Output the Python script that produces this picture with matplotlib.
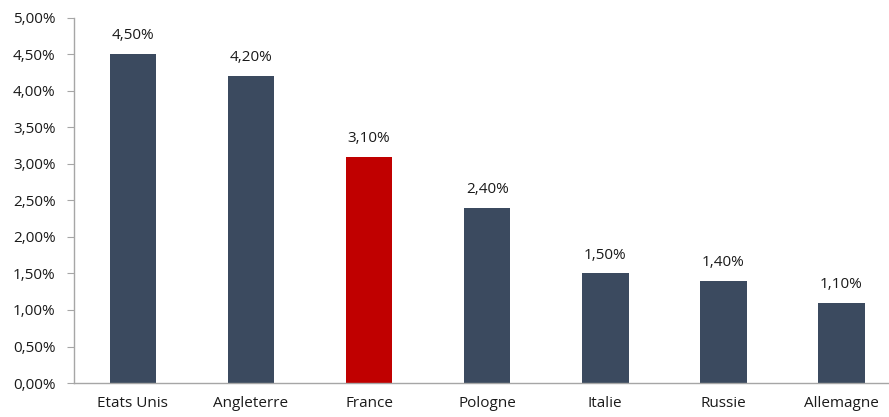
import matplotlib.pyplot as plt
from matplotlib.ticker import FuncFormatter

pays = ["Etats Unis", "Angleterre", "France", "Pologne", "Italie", "Russie", "Allemagne"]
taux = [4.50, 4.20, 3.10, 2.40, 1.50, 1.40, 1.10]
couleurs = ["#3B4A5F", "#3B4A5F", "#C00000", "#3B4A5F", "#3B4A5F", "#3B4A5F", "#3B4A5F"]

def pct(v):
  return "{:.2f}%".format(v).replace(".", ",")

plt.rcParams["font.family"] = ["Open Sans", "DejaVu Sans"]

fig = plt.figure(figsize=(8.89, 4.17), dpi=100)
# the plot area runs a bit past the right edge of the picture, as in the source
ax = fig.add_axes([0.083, 0.0815, 0.930, 0.8755])

x = range(len(pays))
ax.bar(x, taux, width=0.395, color=couleurs, zorder=2)
for xi, v in zip(x, taux):
  ax.text(xi, v + 0.15, pct(v), ha="center", va="bottom", fontsize=11, color="#1a1a1a")

ax.set_xlim(-0.5, len(pays) - 0.5)
ax.set_ylim(0, 5)
ax.set_yticks([i * 0.5 for i in range(11)])
ax.yaxis.set_major_formatter(FuncFormatter(lambda v, p: pct(v)))
ax.set_xticks(list(x))
ax.set_xticklabels(pays)
ax.tick_params(axis="x", length=0, pad=9, labelsize=11, colors="#1a1a1a")
ax.tick_params(axis="y", length=5, color="#A6A6A6", labelsize=11, labelcolor="#1a1a1a", pad=8)

for s in ["top", "right"]:
  ax.spines[s].set_visible(False)
for s in ["left", "bottom"]:
  ax.spines[s].set_color("#A6A6A6")
  ax.spines[s].set_linewidth(1)

fig.savefig("out.png", dpi=100)
